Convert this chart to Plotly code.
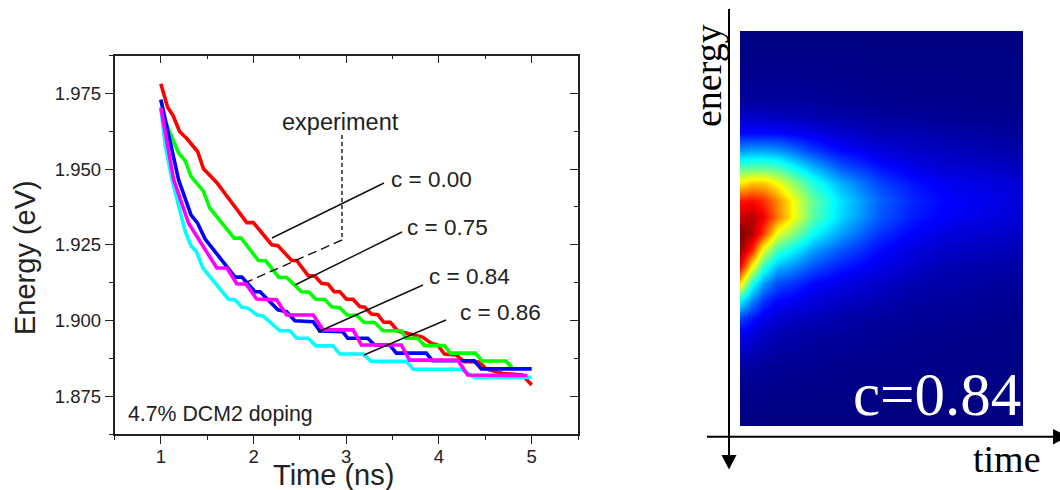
import plotly.graph_objects as go

W, H = 1060, 490
def px(x): return x / W
def py(y): return 1 - y / H

red_x = [1.0,1.073,1.131,1.202,1.282,1.396,1.46,1.604,1.927,1.998,2.196,2.263,2.411,2.465,2.589,2.661,2.733,2.804,2.869,2.93,3.002,3.073,3.145,3.199,3.271,3.342,3.403,3.475,3.557,3.683,3.823,3.916,3.987,4.059,4.185,4.274,4.435,4.51,4.686,4.901,5.0]
red_y = [1.9782,1.9704,1.9677,1.9624,1.96,1.9558,1.9501,1.9455,1.9323,1.9323,1.925,1.9247,1.9198,1.9198,1.9148,1.9147,1.9123,1.912,1.9095,1.9095,1.907,1.907,1.9046,1.9044,1.9021,1.9019,1.8994,1.8994,1.8965,1.8955,1.8945,1.8925,1.8919,1.8889,1.8886,1.8864,1.8863,1.884,1.8825,1.882,1.8787]
green_x = [1.0,1.048,1.191,1.263,1.325,1.46,1.525,1.79,1.866,2.052,2.131,2.274,2.357,2.518,2.6,2.672,2.769,2.847,2.93,3.009,3.11,3.191,3.306,3.396,3.594,3.647,3.772,3.844,4.059,4.124,4.392,4.465,4.723,4.794]
green_y = [1.9729,1.9657,1.9553,1.9527,1.9476,1.9426,1.9373,1.9272,1.9272,1.9198,1.9197,1.9142,1.9142,1.9095,1.9093,1.907,1.9069,1.9044,1.9042,1.9018,1.9017,1.8994,1.8993,1.8966,1.8966,1.8941,1.8941,1.8917,1.8917,1.8892,1.8892,1.8866,1.8866,1.8842]
cyan_x = [1.0,1.048,1.12,1.263,1.325,1.382,1.454,1.729,1.801,1.873,1.944,2.038,2.102,2.177,2.285,2.392,2.465,2.589,2.672,2.858,2.93,3.181,3.271,3.647,3.723,4.242,4.382,5.0]
cyan_y = [1.9703,1.9575,1.9465,1.9294,1.9247,1.9228,1.9173,1.907,1.9068,1.9044,1.904,1.9018,1.9015,1.8994,1.8966,1.8966,1.8941,1.8941,1.8916,1.8916,1.8889,1.8889,1.8865,1.8865,1.8839,1.8839,1.8812,1.8812]
blue_x = [1.0,1.191,1.325,1.396,1.478,1.712,1.801,1.873,2.016,2.07,2.263,2.357,2.446,2.643,2.715,2.962,3.016,3.231,3.306,3.468,3.54,3.863,3.93,4.382,4.457,5.0]
blue_y = [1.9729,1.9465,1.9349,1.9321,1.9269,1.9176,1.9143,1.9143,1.9095,1.9095,1.9035,1.9029,1.8999,1.8996,1.8965,1.8963,1.8941,1.8941,1.8919,1.8919,1.8892,1.8892,1.8867,1.8867,1.884,1.884]
magenta_x = [1.0,1.138,1.299,1.604,1.712,1.819,1.919,2.034,2.249,2.357,2.643,2.751,3.073,3.163,3.594,3.683,4.202,4.31,4.955]
magenta_y = [1.9703,1.9465,1.9321,1.9173,1.9173,1.9121,1.912,1.9071,1.9068,1.9018,1.9018,1.8969,1.8969,1.8919,1.8919,1.8869,1.8869,1.882,1.8818]

x_ticks = [1, 2, 3, 4, 5]
y_ticks = [1.875, 1.900, 1.925, 1.950, 1.975]
y_tick_labels = ["1.875", "1.900", "1.925", "1.950", "1.975"]

map_time = [0,.041,.082,.13,.177,.259,.353,.495,.613,.73,1]
map_energy = [0,.09,.175,.217,.259,.302,.344,.386,.428,.47,.513,.555,.597,.639,.681,.724,.766,.85,.935,1]
map_intensity = [
 [0,0,0,0,0,0,0,0,0,0,0],
 [.01,.01,.01,.01,.01,.01,.01,.005,.005,.005,.003],
 [.03,.03,.03,.03,.03,.025,.02,.015,.012,.01,.01],
 [.07,.07,.07,.06,.06,.05,.04,.03,.025,.02,.015],
 [.13,.13,.13,.13,.12,.1,.08,.05,.05,.04,.025],
 [.27,.28,.28,.27,.24,.18,.13,.09,.07,.06,.04],
 [.45,.46,.46,.44,.39,.3,.21,.14,.1,.08,.06],
 [.64,.68,.68,.62,.54,.41,.3,.19,.14,.11,.08],
 [.85,.86,.83,.74,.64,.47,.35,.22,.16,.125,.09],
 [.93,.95,.89,.76,.65,.46,.34,.21,.15,.115,.08],
 [1.0,.95,.82,.6,.52,.38,.28,.17,.12,.09,.065],
 [.98,.84,.6,.44,.38,.28,.21,.13,.09,.07,.05],
 [.88,.62,.42,.3,.27,.2,.15,.1,.07,.05,.035],
 [.66,.4,.28,.2,.18,.13,.1,.07,.05,.04,.025],
 [.38,.26,.18,.13,.12,.09,.07,.05,.035,.03,.018],
 [.2,.15,.11,.08,.07,.06,.045,.03,.025,.02,.012],
 [.11,.09,.07,.05,.045,.035,.03,.02,.015,.012,.008],
 [.03,.03,.025,.02,.02,.015,.012,.01,.01,.007,.004],
 [.01,.01,.01,.005,.005,.005,.004,.003,.003,.002,.002],
 [0,0,0,0,0,0,0,0,0,0,0],
]
jet = [[0,"#000080"],[.125,"#0000ff"],[.375,"#00ffff"],[.625,"#ffff00"],[.875,"#ff0000"],[1,"#800000"]]

fig = go.Figure()
for name, xs, ys, col in [("c = 0.00", red_x, red_y, "#ff0000"), ("c = 0.75", green_x, green_y, "#00ff00"),
                          ("c = 0.86", cyan_x, cyan_y, "#00ffff"), ("c = 0.84 blue", blue_x, blue_y, "#0000ff"),
                          ("c = 0.84", magenta_x, magenta_y, "#ff00ff")]:
    fig.add_trace(go.Scatter(x=xs, y=ys, mode="lines", name=name, line=dict(color=col, width=3.6), xaxis="x", yaxis="y"))
fig.add_trace(go.Scatter(x=[1], y=[1.9], mode="lines", xaxis="x3", yaxis="y3", hoverinfo="skip", showlegend=False))
fig.add_trace(go.Heatmap(x=map_time, y=map_energy, z=map_intensity, colorscale=jet, zmin=0, zmax=1,
                         zsmooth="best", showscale=False, xaxis="x2", yaxis="y2"))

LINE = "#222222"
TICK = dict(family="Liberation Sans", size=18.5, color="#222222")
xdom = [px(114.5), px(578)]
ydom = [py(434), py(55.5)]
xr = [0.5, 5.5]
yr = [1.8625, 1.9875]
fig.update_layout(
    width=W, height=H, margin=dict(l=0, r=0, t=0, b=0), paper_bgcolor="white", plot_bgcolor="white", showlegend=False,
    xaxis=dict(domain=xdom, range=xr, anchor="y", tickvals=x_ticks, ticks="outside", ticklen=8, tickwidth=1.4,
               ticklabelstandoff=-3,
               tickcolor=LINE, linecolor=LINE, linewidth=1.6, showline=True, showgrid=False, zeroline=False, tickfont=TICK,
               minor=dict(tick0=0.5, dtick=0.5, ticks="outside", ticklen=4, tickwidth=1.4, tickcolor=LINE, showgrid=False)),
    yaxis=dict(domain=ydom, range=yr, anchor="x", tickvals=y_ticks, ticktext=y_tick_labels, ticks="outside", ticklen=8, tickwidth=1.4,
               tickcolor=LINE, linecolor=LINE, linewidth=1.6, showline=True, showgrid=False, zeroline=False, tickfont=TICK,
               minor=dict(tick0=1.875, dtick=0.0125, ticks="outside", ticklen=4, tickwidth=1.4, tickcolor=LINE, showgrid=False)),
    xaxis3=dict(domain=xdom, range=xr, anchor="y3", side="top", overlaying="x", tickvals=x_ticks, ticks="inside", ticklen=8, tickwidth=1.4,
                tickcolor=LINE, linecolor=LINE, linewidth=1.6, showline=True, showgrid=False, zeroline=False, showticklabels=False,
                minor=dict(tick0=0.5, dtick=0.5, ticks="inside", ticklen=4, tickwidth=1.4, tickcolor=LINE, showgrid=False)),
    yaxis3=dict(domain=ydom, range=yr, anchor="x3", side="right", overlaying="y", tickvals=y_ticks, ticks="inside", ticklen=8, tickwidth=1.4,
                tickcolor=LINE, linecolor=LINE, linewidth=1.6, showline=True, showgrid=False, zeroline=False, showticklabels=False,
                minor=dict(tick0=1.875, dtick=0.0125, ticks="inside", ticklen=4, tickwidth=1.4, tickcolor=LINE, showgrid=False)),
    xaxis2=dict(domain=[px(740), px(1023)], range=[0, 1], anchor="y2", visible=False),
    yaxis2=dict(domain=[py(426), py(31)], range=[1, 0], anchor="x2", visible=False),
)

def seg(x0, y0, x1, y1, dash="solid", width=1.4, color="#111111"):
    fig.add_shape(type="line", xref="paper", yref="paper", x0=px(x0), y0=py(y0), x1=px(x1), y1=py(y1),
                  line=dict(color=color, width=width, dash=dash))

seg(272, 238, 384, 183)
seg(295, 285, 402, 232)
seg(318, 332, 423, 285)
seg(364, 355, 446, 320)
seg(342, 135, 342, 240, dash="4px,3px")
seg(342, 240, 247, 282, dash="9px,5px")
seg(729, 9, 729, 456, width=2, color="#000000")
seg(707, 436.7, 1054, 436.7, width=2, color="#000000")
fig.add_shape(type="path", xref="paper", yref="paper", fillcolor="#000000", line=dict(width=0),
              path=f"M {px(721.5)} {py(455)} L {px(736.5)} {py(455)} L {px(729)} {py(469.5)} Z")
fig.add_shape(type="path", xref="paper", yref="paper", fillcolor="#000000", line=dict(width=0),
              path=f"M {px(1053)} {py(429)} L {px(1053)} {py(444.5)} L {px(1068)} {py(436.7)} Z")

def label(text, x, y, size, family="Liberation Sans", color="#222222", angle=0, anchor="center"):
    fig.add_annotation(text=text, xref="paper", yref="paper", x=px(x), y=py(y), xanchor=anchor, yanchor="middle",
                       showarrow=False, textangle=angle, font=dict(family=family, size=size, color=color))

label("Time (ns)", 333, 475, 29)
label("Energy (eV)", 25, 258, 29, angle=-90)
label("4.7% DCM2 doping", 126, 414, 21.3, anchor="left")
label("experiment", 340, 122, 23.5)
label("c = 0.00", 431, 180, 22.5)
label("c = 0.75", 447, 227, 22.5)
label("c = 0.84", 469, 276, 22.5)
label("c = 0.86", 500, 312, 22.5)
label("energy", 708, 76, 38, family="Liberation Serif", color="#000000", angle=-90)
label("time", 1007, 459, 38, family="Liberation Serif", color="#000000")
label("c=0.84", 937, 394, 61, family="Liberation Serif", color="#ffffff")

fig.write_html("out.html", config=dict(displayModeBar=False),
               post_script="document.body.style.margin='0';document.body.style.overflow='hidden';")
